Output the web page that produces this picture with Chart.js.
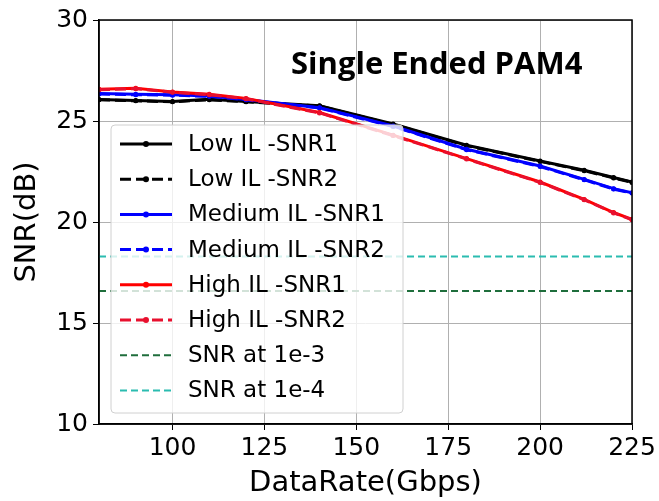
<!DOCTYPE html>
<html>
<head>
<meta charset="utf-8">
<script src="https://cdn.jsdelivr.net/npm/chart.js@4"></script>
<style>
  html, body { margin: 0; padding: 0; background: #fff; }
  #wrap { width: 659px; height: 501px; position: relative; }
</style>
</head>
<body>
<div id="wrap"><canvas id="chart"></canvas></div>
<script>
// data
const rates = [80, 90, 100, 110, 120, 140, 160, 180, 200, 212, 220, 225];
const lowSnr1 = [26.07, 26.02, 25.97, 26.08, 25.97, 25.76, 24.85, 23.80, 23.02, 22.56, 22.20, 21.98];
const lowSnr2 = [26.05, 26.00, 25.95, 26.05, 25.95, 25.74, 24.83, 23.78, 23.00, 22.54, 22.18, 21.96];
const medSnr1 = [26.36, 26.32, 26.30, 26.24, 26.07, 25.66, 24.75, 23.60, 22.77, 22.11, 21.65, 21.45];
const medSnr2 = [26.34, 26.30, 26.28, 26.22, 26.05, 25.64, 24.73, 23.58, 22.75, 22.09, 21.63, 21.43];
const highSnr1 = [26.57, 26.62, 26.44, 26.32, 26.12, 25.42, 24.30, 23.14, 21.98, 21.12, 20.47, 20.13];
const highSnr2 = [26.55, 26.60, 26.42, 26.30, 26.10, 25.40, 24.28, 23.12, 21.96, 21.10, 20.45, 20.11];
const snr1e3 = 16.58;
const snr1e4 = 18.29;
const xTicks = [100, 125, 150, 175, 200, 225];
const yTicks = [10, 15, 20, 25, 30];
const titleText = 'Single Ended PAM4';

const pts = (ys) => rates.map((r, i) => ({ x: r, y: ys[i] }));
const flat = (v) => [{ x: 80, y: v }, { x: 225, y: v }];

const series = [
    { label: 'Low IL -SNR1', data: pts(lowSnr1), color: '#000000', dash: [] , marker: true },
    { label: 'Low IL -SNR2', data: pts(lowSnr2), color: '#000000', dash: [11, 5], marker: true },
    { label: 'Medium IL -SNR1', data: pts(medSnr1), color: '#0000ff', dash: [], marker: true },
    { label: 'Medium IL -SNR2', data: pts(medSnr2), color: '#0000ff', dash: [11, 5], marker: true },
    { label: 'High IL -SNR1', data: pts(highSnr1), color: '#ff0000', dash: [], marker: true },
    { label: 'High IL -SNR2', data: pts(highSnr2), color: '#e8102e', dash: [11, 5], marker: true },
    { label: 'SNR at 1e-3', data: flat(snr1e3), color: '#1f6e3c', dash: [7, 4], marker: false },
    { label: 'SNR at 1e-4', data: flat(snr1e4), color: '#2bbcb0', dash: [7, 4], marker: false }
];

const datasets = series.map((s, i) => ({
    label: s.label,
    data: s.data,
    borderColor: s.color,
    backgroundColor: s.color,
    borderDash: s.dash,
    borderWidth: s.marker ? 3 : 2,
    pointRadius: s.marker ? 2.5 : 0,
    pointBorderWidth: 0,
    pointBackgroundColor: s.color,
    tension: 0,
    fill: false,
    order: -i
}));

// frame round the plot, title inside, legend box on top
const framePlugin = {
    id: 'frame',
    afterDraw(chart) {
        const { ctx, chartArea: a } = chart;
        ctx.save();
        ctx.strokeStyle = '#000';
        ctx.lineWidth = 1.5;
        ctx.strokeRect(a.left, a.top, a.right - a.left, a.bottom - a.top);

        ctx.fillStyle = '#000';
        ctx.font = 'bold 31px "Open Sans"';
        ctx.textBaseline = 'alphabetic';
        ctx.fillText(titleText, 291, 74);

        // legend
        const lx = 111, ly = 125, lw = 292, lh = 288;
        ctx.beginPath();
        ctx.roundRect(lx, ly, lw, lh, 4);
        ctx.fillStyle = 'rgba(255,255,255,0.8)';
        ctx.fill();
        ctx.strokeStyle = '#d0d0d0';
        ctx.lineWidth = 1;
        ctx.stroke();

        ctx.font = '23px "DejaVu Sans"';
        ctx.textBaseline = 'middle';
        series.forEach((s, i) => {
            const y = 144 + i * 35.2;
            ctx.strokeStyle = s.color;
            ctx.lineWidth = s.marker ? 3 : 2;
            ctx.setLineDash(s.dash);
            ctx.beginPath();
            ctx.moveTo(120, y);
            ctx.lineTo(172, y);
            ctx.stroke();
            ctx.setLineDash([]);
            if (s.marker) {
                ctx.beginPath();
                ctx.arc(146, y, 3, 0, Math.PI * 2);
                ctx.fillStyle = s.color;
                ctx.fill();
            }
            ctx.fillStyle = '#000';
            ctx.fillText(s.label, 188, y + 1);
        });
        ctx.restore();
    }
};

new Chart(document.getElementById('chart'), {
    type: 'line',
    data: { datasets },
    plugins: [framePlugin],
    options: {
        responsive: true,
        maintainAspectRatio: false,
        animation: false,
        layout: { padding: { left: 0, right: 27, top: 20, bottom: 0 } },
        plugins: { legend: { display: false }, tooltip: { enabled: false } },
        scales: {
            x: {
                type: 'linear',
                min: 80,
                max: 225,
                afterBuildTicks: (scale) => { scale.ticks = xTicks.map(v => ({ value: v })); },
                afterFit: (scale) => { scale.height = 77; },
                grid: { color: '#b0b0b0', lineWidth: 1, tickColor: '#000', tickLength: 6 },
                border: { color: '#000', width: 1.5 },
                ticks: { color: '#000', padding: 3, maxRotation: 0, font: { family: 'DejaVu Sans', size: 25 } },
                title: {
                    display: true,
                    text: 'DataRate(Gbps)',
                    color: '#000',
                    font: { family: 'DejaVu Sans', size: 29 },
                    padding: { top: 0, bottom: 0 }
                }
            },
            y: {
                min: 10,
                max: 30,
                afterBuildTicks: (scale) => { scale.ticks = yTicks.map(v => ({ value: v })); },
                afterFit: (scale) => { scale.width = 99; },
                grid: { color: '#b0b0b0', lineWidth: 1, tickColor: '#000', tickLength: 6 },
                border: { color: '#000', width: 1.5 },
                ticks: { color: '#000', padding: 5, font: { family: 'DejaVu Sans', size: 25 } },
                title: {
                    display: true,
                    text: 'SNR(dB)',
                    color: '#000',
                    font: { family: 'DejaVu Sans', size: 29 },
                    padding: { top: 10, bottom: 0 }
                }
            }
        }
    }
});
</script>
</body>
</html>
